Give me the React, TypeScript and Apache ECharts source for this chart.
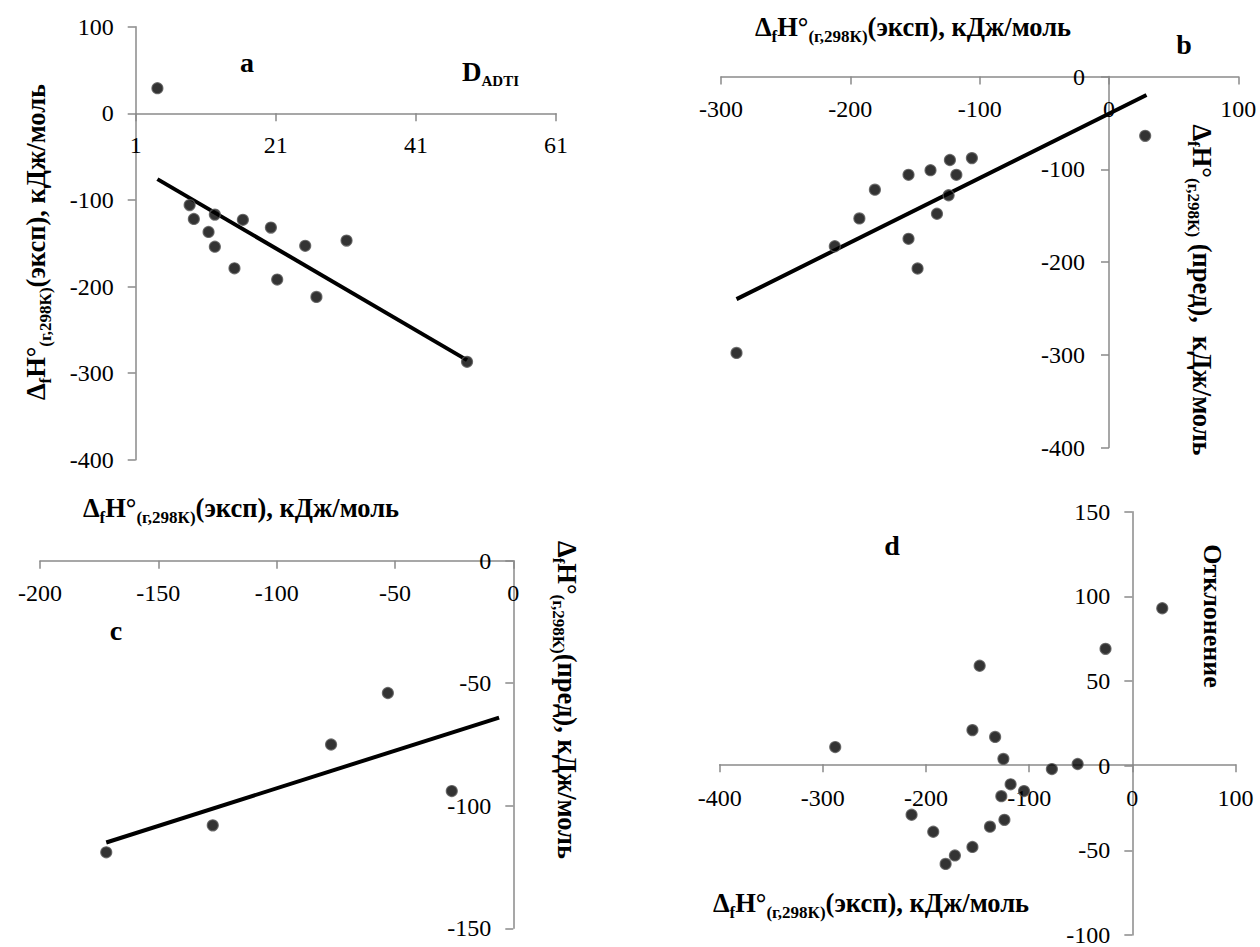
import React, { useEffect, useRef } from "react";
import * as echarts from "echarts";

// Panel a: D_ADTI index vs experimental enthalpy
const aDadti = [4.1, 8.7, 9.3, 11.4, 12.3, 12.3, 15.1, 16.3, 20.3, 21.2, 25.2, 26.8, 31.1, 48.3];
const aExp = [29, -106, -122, -137, -117, -154, -179, -123, -132, -192, -153, -212, -147, -287];
const aFitX = [4.1, 48.3];
const aFitY = [-76, -285];

// Panel b: experimental vs predicted (training set)
const bExp = [-288, -212, -193, -181, -155, -155, -148, -138, -133, -124, -123, -118, -106, 28];
const bPred = [-298, -183, -153, -122, -106, -175, -207, -101, -148, -128, -90, -106, -88, -64];
const bFitX = [-288, 29];
const bFitY = [-240, -20];

// Panel c: experimental vs predicted (test set)
const cExp = [-172, -127, -77, -53, -26];
const cPred = [-119, -108, -75, -54, -94];
const cFitX = [-172, -6];
const cFitY = [-115, -64];

// Panel d: deviation vs experimental value
const dExp = [-288, -214, -193, -181, -172, -155, -155, -148, -138, -133, -127, -125, -124, -118, -105, -78, -53, -26, 29];
const dDev = [11, -29, -39, -58, -53, 21, -48, 59, -36, 17, -18, 4, -32, -11, -15, -2, 1, 69, 93];

// Axis ranges and tick steps
const aXAxis = { min: 1, max: 61, interval: 20 };
const aYAxis = { min: -400, max: 100, interval: 100 };
const bXAxis = { min: -300, max: 100, interval: 100 };
const bYAxis = { min: -400, max: 0, interval: 100 };
const cXAxis = { min: -200, max: 0, interval: 50 };
const cYAxis = { min: -150, max: 0, interval: 50 };
const dXAxis = { min: -400, max: 100, interval: 100 };
const dYAxis = { min: -100, max: 150, interval: 50 };

const W = 1260;
const H = 947;
const SERIF = "Liberation Serif";
const AXIS_GREY = "#8a8a8a";

// Plot boxes in page pixels: left, top, right, bottom
const boxes = [
  { l: 135.7, t: 26.7, r: 556, b: 459.7 },
  { l: 721, t: 76.5, r: 1238.3, b: 447.5 },
  { l: 40, t: 560.7, r: 513.3, b: 928.3 },
  { l: 719.7, t: 511.7, r: 1235.5, b: 938.3 },
];

const zip = (xs: number[], ys: number[]) => xs.map((x, i) => [x, ys[i]]);

const nameRich = {
  m: { fontFamily: SERIF, fontWeight: "bold", fontSize: 26.5, lineHeight: 35, fill: "#000" },
  s: { fontFamily: SERIF, fontWeight: "bold", fontSize: 17, lineHeight: 17, verticalAlign: "bottom", fill: "#000" },
};

const expName = "{m|Δ}{s|f}{m|H°}{s|(г,298К)}{m|(эксп), кДж/моль}";

// Tick labels drawn through rich text so the serif face is applied
const tickRich = {
  t: { fontFamily: SERIF, fontSize: 24, fill: "#000", color: "#000" },
};
const tickFmt = (v: number) => `{t|${v}}`;

// Axes cross where the other axis is zero (or at its min when zero is out of range)
function axisPair(i: number, xr: any, yr: any, xMargin: number, yMargin: number) {
  const bx = boxes[i];
  const yCross = yr.min <= 0 && yr.max >= 0 ? 0 : yr.min;
  const xCross = xr.min <= 0 && xr.max >= 0 ? 0 : xr.min;
  const yPix = bx.b - ((yCross - yr.min) / (yr.max - yr.min)) * (bx.b - bx.t);
  const xPix = bx.l + ((xCross - xr.min) / (xr.max - xr.min)) * (bx.r - bx.l);
  const common = {
    type: "value",
    gridIndex: i,
    axisLine: { show: true, onZero: false, lineStyle: { color: AXIS_GREY, width: 1.5 } },
    axisTick: { show: true, length: 8, lineStyle: { color: AXIS_GREY, width: 1.5 } },
    splitLine: { show: false },
  };
  const lbl = (margin: number) => ({
    fontFamily: SERIF,
    fontSize: 24,
    color: "#000",
    margin,
    formatter: tickFmt,
    rich: tickRich,
  });
  return {
    x: {
      ...common,
      ...xr,
      position: "bottom",
      offset: -(bx.b - yPix),
      axisLabel: lbl(xMargin),
    },
    y: {
      ...common,
      ...yr,
      position: "left",
      offset: -(xPix - bx.l),
      axisLabel: lbl(yMargin),
    },
  };
}

function scatter(idx: number, data: number[][]) {
  return {
    type: "scatter",
    xAxisIndex: idx,
    yAxisIndex: idx,
    data,
    symbol: "circle",
    symbolSize: 11,
    z: 5,
    itemStyle: { color: "#000", borderColor: "#5a5a5a", borderWidth: 1.2 },
  };
}

function fitLine(idx: number, data: number[][]) {
  return {
    type: "line",
    xAxisIndex: idx,
    yAxisIndex: idx,
    data,
    symbol: "none",
    z: 3,
    lineStyle: { color: "#000", width: 4 },
  };
}

function label(text: string, x: number, y: number, size = 28, rotation = 0) {
  return {
    type: "text",
    x,
    y,
    rotation,
    style: {
      text,
      fontFamily: SERIF,
      fontWeight: "bold",
      fontSize: size,
      fill: "#000",
      align: "center",
      verticalAlign: "middle",
    },
  };
}

function richLabel(text: string, x: number, y: number, rotation = 0) {
  return {
    type: "text",
    x,
    y,
    rotation,
    style: {
      text,
      rich: nameRich,
      align: "center",
      verticalAlign: "middle",
    },
  };
}

export default function App() {
  const ref = useRef<HTMLDivElement>(null);

  useEffect(() => {
    if (!ref.current) return;
    const chart = echarts.init(ref.current, null, { renderer: "svg" });

    const pa = axisPair(0, aXAxis, aYAxis, 20, 22);
    const pb = axisPair(1, bXAxis, bYAxis, 20, 24);
    const pc = axisPair(2, cXAxis, cYAxis, 20, 22);
    const pd = axisPair(3, dXAxis, dYAxis, 22, 22);

    chart.setOption({
      animation: false,
      backgroundColor: "#fff",
      textStyle: { fontFamily: SERIF },
      grid: boxes.map((bx) => ({
        left: bx.l,
        top: bx.t,
        right: W - bx.r,
        bottom: H - bx.b,
      })),
      xAxis: [pa.x, pb.x, pc.x, pd.x],
      yAxis: [pa.y, pb.y, pc.y, pd.y],
      series: [
        fitLine(0, zip(aFitX, aFitY)),
        scatter(0, zip(aDadti, aExp)),
        fitLine(1, zip(bFitX, bFitY)),
        scatter(1, zip(bExp, bPred)),
        fitLine(2, zip(cFitX, cFitY)),
        scatter(2, zip(cExp, cPred)),
        scatter(3, zip(dExp, dDev)),
      ],
      graphic: [
        // panel a
        label("a", 247, 62),
        {
          type: "text",
          x: 462,
          y: 72,
          style: {
            text: "{D|D}{s|ADTI}",
            rich: {
              D: { fontFamily: SERIF, fontWeight: "bold", fontSize: 27, lineHeight: 32, fill: "#000" },
              s: { fontFamily: SERIF, fontWeight: "bold", fontSize: 15, lineHeight: 15, verticalAlign: "bottom", fill: "#000" },
            },
            align: "left",
            verticalAlign: "middle",
          },
        },
        richLabel(expName, 36, 242, Math.PI / 2),
        // panel b
        label("b", 1184, 44),
        richLabel(expName, 913, 27),
        richLabel("{m|Δ}{s|f}{m|H°}{s|(г,298К)}{m| (пред),  кДж/моль}", 1202, 290, -Math.PI / 2),
        // panel c
        label("c", 116, 630),
        richLabel(expName, 241, 508),
        richLabel("{m|Δ}{s|f}{m|H°}{s|(г,298К)}{m|(пред), кДж/моль}", 567, 700, -Math.PI / 2),
        // panel d
        label("d", 892, 545),
        label("Отклонение", 1212, 616, 26, -Math.PI / 2),
        richLabel(expName, 871, 903),
      ],
    });

    return () => chart.dispose();
  }, []);

  return (
    <div
      ref={ref}
      style={{ position: "absolute", left: 0, top: 0, width: W, height: H }}
    />
  );
}
